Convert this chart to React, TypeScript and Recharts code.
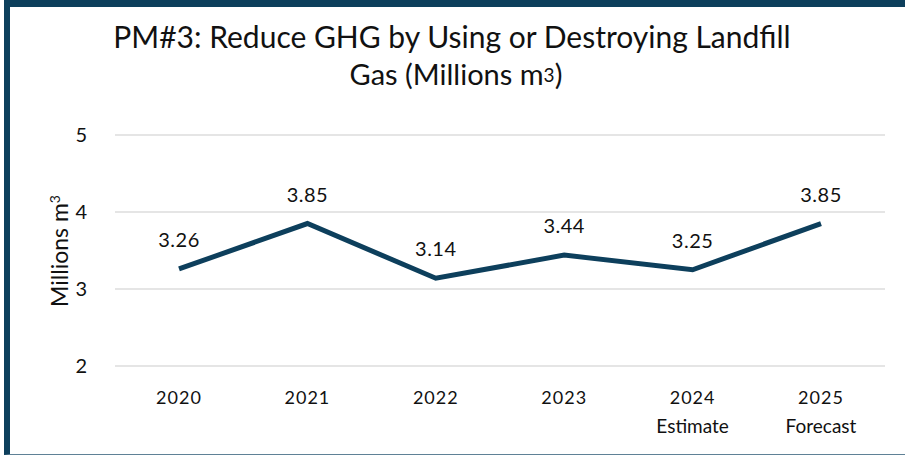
import { CartesianGrid, LabelList, Line, LineChart, XAxis, YAxis } from 'recharts';

const years = ['2020', '2021', '2022', '2023', '2024', '2025'];
const subLabels = ['', '', '', '', 'Estimate', 'Forecast'];
const gasVolume = [3.26, 3.85, 3.14, 3.44, 3.25, 3.85];
const yTicks = [2, 3, 4, 5];

const data = years.map((year, i) => ({ year, sub: subLabels[i], value: gasVolume[i] }));

const FONT = 'Lato, "Open Sans", sans-serif';
const NAVY = '#0d3f5c';

function YearTick(props: any) {
  const { x, y, payload } = props;
  const sub = subLabels[payload.index];
  return (
    <g>
      <text
        x={x}
        y={y + 30}
        textAnchor="middle"
        fontSize={18}
        letterSpacing={1}
        fill="#111"
        fontFamily={FONT}
      >
        {payload.value}
      </text>
      {sub && (
        <text x={x} y={y + 59} textAnchor="middle" fontSize={19} fill="#111" fontFamily={FONT}>
          {sub}
        </text>
      )}
    </g>
  );
}

export default function App() {
  return (
    <div
      style={{
        position: 'absolute',
        left: 0,
        top: 0,
        width: 905,
        height: 455,
        background: '#fff',
        fontFamily: FONT,
      }}
    >
      {/* frame */}
      <div
        style={{
          position: 'absolute',
          left: 4,
          top: 0,
          width: 901,
          height: 447,
          borderTop: `7px solid ${NAVY}`,
          borderLeft: `6px solid ${NAVY}`,
          borderBottom: '1px solid #5f8196',
        }}
      />
      <LineChart
        width={905}
        height={455}
        data={data}
        margin={{ top: 135, right: 20, left: 0, bottom: 29 }}
        style={{ position: 'absolute', left: 0, top: 0 }}
      >
        <text x={452} y={48} textAnchor="middle" fontSize={30} fill="#111" fontFamily={FONT}>
          PM#3: Reduce GHG by Using or Destroying Landfill
        </text>
        <text x={456} y={85} textAnchor="middle" fontSize={29} fill="#111" fontFamily={FONT}>
          Gas (Millions m
          <tspan fontSize={19} dy={-3}>3</tspan>
          <tspan dy={3}>)</tspan>
        </text>
        <text
          x={68}
          y={251}
          textAnchor="middle"
          fontSize={23}
          fill="#111"
          fontFamily={FONT}
          transform="rotate(-90 68 251)"
        >
          Millions m
          <tspan fontSize={14} dy={-8}>3</tspan>
        </text>
        <CartesianGrid vertical={false} stroke="#dcdcdc" strokeWidth={1.5} />
        <XAxis
          dataKey="year"
          axisLine={false}
          tickLine={false}
          height={60}
          padding={{ left: 64, right: 64 }}
          tick={<YearTick />}
          interval={0}
        />
        <YAxis
          domain={[2, 5]}
          ticks={yTicks}
          width={115}
          axisLine={false}
          tickLine={false}
          tickMargin={22}
          tick={{ fontSize: 20, fill: '#111', fontFamily: FONT }}
        />
        <Line
          type="linear"
          dataKey="value"
          stroke={NAVY}
          strokeWidth={5}
          dot={false}
          isAnimationActive={false}
        >
          <LabelList
            dataKey="value"
            position="top"
            offset={22}
            fontSize={20}
            letterSpacing={0.5}
            fill="#111"
            fontFamily={FONT}
            formatter={(v: any) => Number(v).toFixed(2)}
          />
        </Line>
      </LineChart>
    </div>
  );
}
